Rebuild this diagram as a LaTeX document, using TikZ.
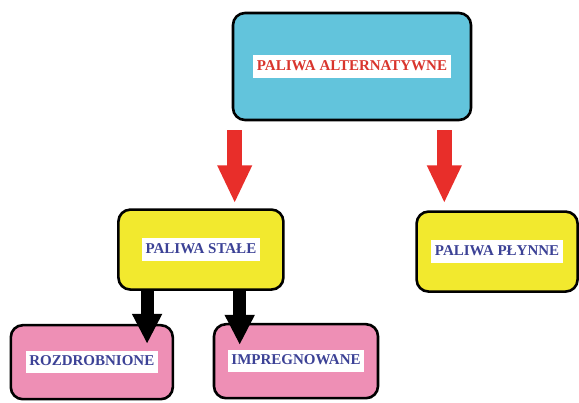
\documentclass[tikz,border=0pt]{standalone}
\usepackage{fontspec}
\setmainfont{Liberation Serif}
\usepackage{xcolor}
\usetikzlibrary{positioning, arrows.meta, calc}
\definecolor{skyfill}{HTML}{62C4DC}
\definecolor{lemon}{HTML}{F2E92E}
\definecolor{rose}{HTML}{EE8FB5}
\definecolor{redtxt}{HTML}{D9352D}
\definecolor{bluetxt}{HTML}{3C4296}
\definecolor{redarrow}{HTML}{E82E2A}
\newcommand{\tag}[2]{{\setlength{\fboxsep}{3.5pt}%
  \colorbox{white}{\rule[-4pt]{0pt}{15.5pt}\textcolor{#1}{#2}}}}
\tikzset{
  topbox/.style={draw=black, fill=skyfill, rounded corners=12pt, line width=2.6pt,
                 inner sep=0pt, minimum width=238pt, minimum height=107pt,
                 font=\fontsize{15}{17}\selectfont\bfseries},
  midbox/.style={draw=black, fill=lemon, rounded corners=12pt, line width=2.6pt,
                 inner sep=0pt, minimum width=165pt, minimum height=80pt,
                 font=\fontsize{15}{17}\selectfont\bfseries},
  lowbox/.style={draw=black, fill=rose, rounded corners=12pt, line width=2.6pt,
                 inner sep=0pt, minimum width=162pt, minimum height=74pt,
                 font=\fontsize{15}{17}\selectfont\bfseries},
  redarr/.style={-{Triangle[length=38pt, width=32pt]}, draw=redarrow, line width=15pt},
  blkarr/.style={-{Triangle[length=30pt, width=28pt]}, draw=black, line width=13pt},
}
\begin{document}
\begin{tikzpicture}[x=1pt, y=1pt]
  \useasboundingbox[fill=white] (0,0) rectangle (579,403);
  \node[topbox] (alt) at (352,336.5) {\tag{redtxt}{PALIWA ALTERNATYWNE}};
  \node[midbox, below left=87pt and -53pt of alt] (stale)
    {\tag{bluetxt}{PALIWA STAŁE}};
  \node[midbox, below right=89pt and -57pt of alt, minimum width=161pt] (plynne)
    {\tag{bluetxt}{PALIWA PŁYNNE}};
  \node[lowbox, below left=33pt and -57pt of stale] (rozd)
    {\tag{bluetxt}{ROZDROBNIONE}};
  \node[lowbox, below right=32pt and -72pt of stale, minimum width=164pt] (impr)
    {\tag{bluetxt}{IMPREGNOWANE}};
  \draw[redarr] ($(alt.south west)+(3,-9)$) -- ($(alt.south west |- stale.north)+(3,5)$);
  \draw[redarr] ($(alt.south east)+(-28,-9)$) -- ($(alt.south east |- plynne.north)+(-28,7)$);
  \draw[blkarr] ($(stale.south west)+(30,0)$) -- ($(stale.south west |- rozd.north)+(30,-20)$);
  \draw[blkarr] ($(stale.south east)+(-45,0)$) -- ($(stale.south east |- impr.north)+(-45,-22)$);
\end{tikzpicture}
\end{document}
